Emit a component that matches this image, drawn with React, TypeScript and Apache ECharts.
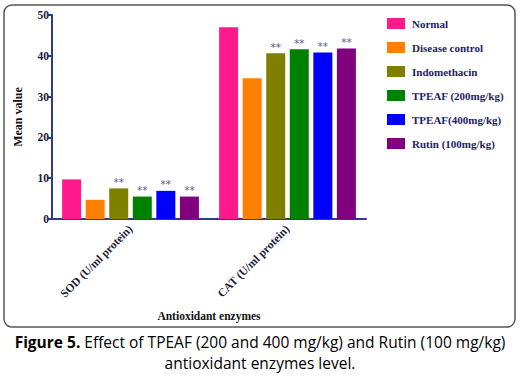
import React, { useEffect, useRef } from "react";
import * as echarts from "echarts";

const categories = ["SOD (U/ml protein)", "CAT (U/ml protein)"];
const seriesNames = [
  "Normal",
  "Disease control",
  "Indomethacin",
  "TPEAF (200mg/kg)",
  "TPEAF(400mg/kg)",
  "Rutin (100mg/kg)",
];
const seriesValues = [
  [9.7, 47.0],
  [4.7, 34.5],
  [7.5, 40.6],
  [5.5, 41.6],
  [6.9, 40.8],
  [5.5, 41.8],
];
const significant = [false, false, true, true, true, true];
const colors = ["#ff1a8c", "#ff8000", "#808000", "#008000", "#0000ff", "#800080"];
const yTicks = [0, 10, 20, 30, 40, 50];

const serif = "Liberation Serif";
const axisColor = "#2e3a8c";

export default function App() {
  const ref = useRef<HTMLDivElement>(null);
  useEffect(() => {
    if (!ref.current) return;
    const chart = echarts.init(ref.current, undefined, { renderer: "svg" });
    chart.setOption({
      animation: false,
      backgroundColor: "#ffffff",
      grid: { left: 52, right: 155, top: 15, bottom: 159, containLabel: false },
      legend: {
        orient: "vertical",
        left: 382,
        top: 13,
        itemWidth: 18,
        itemHeight: 11,
        itemGap: 13,
        icon: "rect",
        data: seriesNames,
        textStyle: {
          fontFamily: serif,
          fontWeight: "bold",
          fontSize: 11,
          color: "#1c1c6b",
          padding: [0, 0, 0, 2],
        },
      },
      xAxis: {
        type: "category",
        data: categories,
        name: "Antioxidant enzymes",
        nameLocation: "middle",
        nameGap: 91,
        nameTextStyle: { fontFamily: serif, fontWeight: "bold", fontSize: 11.5, color: "#111" },
        axisLine: { lineStyle: { color: axisColor, width: 2 } },
        axisTick: { alignWithLabel: true, length: 5, lineStyle: { color: axisColor, width: 2 } },
        axisLabel: {
          rotate: 45,
          margin: 8,
          fontFamily: serif,
          fontWeight: "bold",
          fontSize: 11.5,
          color: "#1a1a3a",
        },
      },
      yAxis: {
        type: "value",
        min: yTicks[0],
        max: yTicks[yTicks.length - 1],
        interval: 10,
        name: "Mean value",
        nameLocation: "middle",
        nameGap: 28,
        nameTextStyle: { fontFamily: serif, fontWeight: "bold", fontSize: 12, color: "#111" },
        axisLine: { show: true, lineStyle: { color: axisColor, width: 2 } },
        axisTick: { show: true, length: 4, lineStyle: { color: axisColor, width: 2 } },
        splitLine: { show: false },
        axisLabel: {
          margin: 3,
          fontFamily: serif,
          fontWeight: "bold",
          fontSize: 11.5,
          color: "#1a1a3a",
        },
      },
      series: seriesNames.map((name, i) => ({
        name,
        type: "bar",
        data: seriesValues[i],
        barWidth: 19,
        barGap: "24%",
        barCategoryGap: "13%",
        itemStyle: { color: colors[i] },
        label: {
          show: significant[i],
          position: "top",
          distance: 1,
          formatter: "**",
          fontFamily: "DejaVu Sans",
          fontSize: 10.5,
          color: "#5a6080",
        },
      })),
      graphic: [
        {
          type: "rect",
          shape: { x: 4, y: 5, width: 511, height: 322, r: 8 },
          style: { fill: "none", stroke: "#555555", lineWidth: 1.5 },
          silent: true,
        },
        {
          type: "text",
          x: 260,
          y: 352.5,
          style: {
            text:
              "{b|Figure 5.}{n| Effect of TPEAF (200 and 400 mg/kg) and Rutin (100 mg/kg)}\n{n|antioxidant enzymes level.}",
            align: "center",
            verticalAlign: "middle",
            fontFamily: "Open Sans",
            fontSize: 15,
            lineHeight: 21,
            fill: "#000",
            rich: {
              b: { fontFamily: "Open Sans", fontSize: 15.5, lineHeight: 21, fontWeight: "bold", fill: "#000" },
              n: { fontFamily: "Open Sans", fontSize: 15.5, lineHeight: 21, fill: "#000" },
            },
          },
        },
      ],
    });
    return () => chart.dispose();
  }, []);
  return (
    <div
      ref={ref}
      style={{ position: "fixed", left: 0, top: 0, width: 521, height: 378 }}
    />
  );
}
